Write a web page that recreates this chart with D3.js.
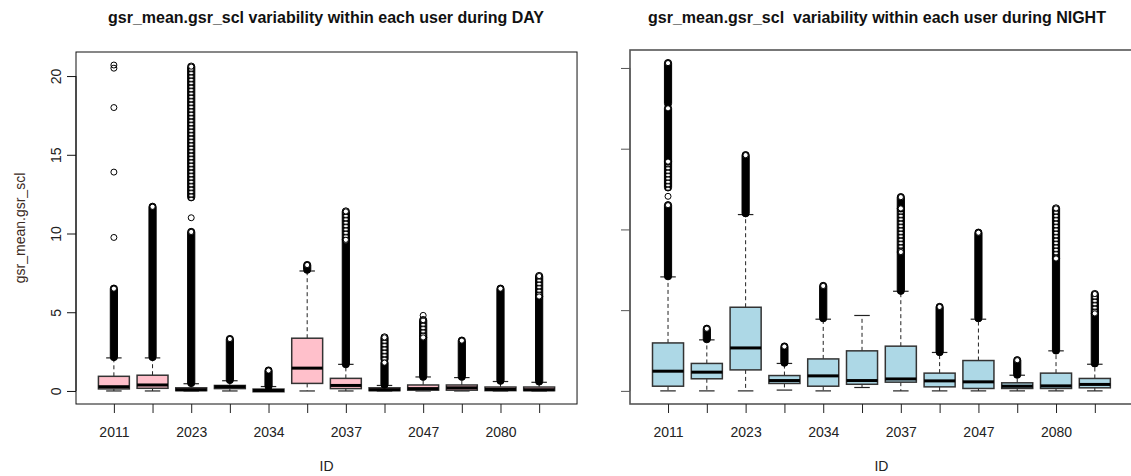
<!DOCTYPE html>
<html>
<head>
<meta charset="utf-8">
<script src="https://cdn.jsdelivr.net/npm/d3@7"></script>
<style>
  body { margin: 0; background: #fff; }
  svg { display: block; font-family: "Liberation Sans", Arial, sans-serif; }
</style>
</head>
<body>
<div id="chart"></div>
<script>
// user IDs (only every other one gets a visible label, like R drops overlapping ones)
const ids = ["2011", "2016", "2023", "2030", "2034", "2035", "2037", "2040", "2047", "2060", "2080", "2081"];
const shownIds = ["2011", "2023", "2034", "2037", "2047", "2080"];
const yTicks = [0, 5, 10, 15, 20];

// DAY box stats
const dayLow  = [0, 0, 0, 0, 0, 0, 0, 0, 0, 0, 0, 0];
const dayQ1   = [0.13, 0.17, 0.02, 0.15, -0.05, 0.48, 0.15, 0.02, 0.05, 0.05, 0.02, 0.02];
const dayMed  = [0.27, 0.38, 0.08, 0.27, 0.03, 1.45, 0.35, 0.08, 0.15, 0.2, 0.1, 0.08];
const dayQ3   = [0.93, 1.0, 0.2, 0.35, 0.12, 3.35, 0.8, 0.2, 0.38, 0.38, 0.25, 0.25];
const dayHigh = [2.1, 2.1, 0.46, 0.65, 0.28, 7.62, 1.69, 0.35, 0.89, 0.85, 0.6, 0.55];
// outlier columns: [from, to, solid?]  and single outliers
const dayRuns = [
  [[2.15, 6.5, 1]],
  [[2.15, 11.7, 1]],
  [[0.5, 10.1, 1], [12.3, 20.6, 0]],
  [[0.7, 3.3, 1]],
  [[0.3, 1.3, 1]],
  [[7.7, 8.0, 1]],
  [[1.7, 9.6, 1], [9.6, 11.4, 0]],
  [[0.4, 1.8, 1], [2.0, 3.4, 0]],
  [[0.9, 3.4, 1], [3.4, 4.5, 0]],
  [[0.9, 3.2, 1]],
  [[0.65, 6.5, 1]],
  [[0.6, 6.0, 1], [6.0, 7.3, 0]]
];
const dayPoints = [[9.75, 13.9, 18.0, 20.5, 20.7], [], [11.0], [], [], [], [], [], [4.8], [], [], []];

// NIGHT box stats
const nightLow  = [0, 0, 0, 0.05, 0, 0.21, 0, 0, 0, 0, 0, 0];
const nightQ1   = [0.29, 0.75, 1.3, 0.46, 0.29, 0.41, 0.54, 0.25, 0.15, 0.15, 0.15, 0.19];
const nightMed  = [1.22, 1.16, 2.66, 0.64, 0.93, 0.64, 0.74, 0.62, 0.56, 0.29, 0.31, 0.4];
const nightQ3   = [2.97, 1.7, 5.18, 0.95, 1.98, 2.48, 2.77, 1.1, 1.88, 0.5, 1.1, 0.77];
const nightHigh = [7.06, 3.16, 10.92, 1.7, 4.44, 4.67, 6.17, 2.38, 4.44, 0.97, 2.48, 1.65];
const nightRuns = [
  [[7.1, 11.5, 1], [12.6, 14.2, 0], [14.2, 17.5, 1], [17.8, 20.3, 1]],
  [[3.2, 3.85, 1]],
  [[11.0, 14.6, 1]],
  [[1.75, 2.75, 1]],
  [[4.5, 6.5, 1]],
  [],
  [[6.2, 8.6, 1], [8.6, 11.3, 0], [11.3, 12.0, 1]],
  [[2.4, 5.2, 1]],
  [[4.5, 9.8, 1]],
  [[1.0, 1.9, 1]],
  [[2.5, 8.2, 1], [8.2, 11.3, 0]],
  [[1.7, 4.8, 1], [4.8, 6.0, 0]]
];
const nightPoints = [[12.05], [], [], [], [], [], [], [], [], [], [], []];

const svg = d3.select("#chart").append("svg")
  .attr("width", 1131)
  .attr("height", 476);

// loosely stacked circles: black column with small white holes
const pat = svg.append("defs").append("pattern")
  .attr("id", "loose")
  .attr("patternUnits", "userSpaceOnUse")
  .attr("width", 8).attr("height", 3.4)
  .attr("x", -4);
pat.append("rect").attr("width", 8).attr("height", 3.4).attr("fill", "#000");
pat.append("ellipse").attr("cx", 4).attr("cy", 1.7).attr("rx", 2).attr("ry", 1.1).attr("fill", "#fff");

function drawPanel(opt) {
  const rows = ids.map(function(id, i) {
    return {id: id, low: opt.low[i], q1: opt.q1[i], med: opt.med[i], q3: opt.q3[i], high: opt.high[i],
            runs: opt.runs[i], points: opt.points[i]};
  });

  // R style 4% padding around the data range
  const maxV = d3.max(rows, function(d) {
    return d3.max([d.high].concat(d.points, d.runs.map(function(r) { return r[1]; })));
  });
  const y = d3.scaleLinear()
    .domain([-0.04 * maxV, maxV * 1.04])
    .range([opt.bottom, opt.top]);

  const x = d3.scaleLinear()
    .domain([0.02, ids.length + 0.98])
    .range([opt.left, opt.left + opt.unit * 12.96]);

  const g = svg.append("g");
  const bw = opt.unit * 0.8;

  // frame
  g.append("rect")
    .attr("x", x.range()[0]).attr("y", opt.top)
    .attr("width", x.range()[1] - x.range()[0]).attr("height", opt.bottom - opt.top)
    .attr("fill", "none").attr("stroke", opt.frame).attr("stroke-width", opt.frameW);

  // y axis
  const yAxis = g.append("g")
    .attr("transform", "translate(" + opt.left + ",0)")
    .call(d3.axisLeft(y).tickValues(yTicks).tickSize(9).tickPadding(4)
      .tickFormat(opt.yLabels ? d3.format("d") : ""));
  yAxis.select(".domain").attr("stroke", opt.frame).attr("d",
    "M0," + y(0) + "V" + y(20));
  yAxis.selectAll(".tick line").attr("stroke", opt.frame);
  yAxis.selectAll(".tick text")
    .attr("font-size", 14).attr("fill", "#222")
    .attr("text-anchor", "middle")
    .attr("x", null).attr("dy", null)
    .attr("transform", "translate(-15,0) rotate(-90)");

  // x axis
  const xAxis = g.append("g")
    .attr("transform", "translate(0," + opt.bottom + ")")
    .call(d3.axisBottom(x).tickValues(d3.range(1, ids.length + 1)).tickSize(9).tickPadding(14)
      .tickFormat(function(d) {
        const id = ids[d - 1];
        return shownIds.indexOf(id) >= 0 && (d - 1) % 2 === 0 ? id : "";
      }));
  xAxis.select(".domain").remove();
  xAxis.selectAll(".tick line").attr("stroke", "#222");
  xAxis.selectAll(".tick text").attr("font-size", 14).attr("fill", "#222");

  const box = g.selectAll(".box").data(rows).enter().append("g")
    .attr("class", "box")
    .attr("transform", function(d, i) { return "translate(" + x(i + 1) + ",0)"; });

  // whiskers
  box.append("line")
    .attr("y1", function(d) { return y(d.q3); }).attr("y2", function(d) { return y(d.high); })
    .attr("stroke", "#222").attr("stroke-dasharray", "4,3");
  box.append("line")
    .attr("y1", function(d) { return y(d.q1); }).attr("y2", function(d) { return y(d.low); })
    .attr("stroke", "#222").attr("stroke-dasharray", "4,3");
  box.append("line")
    .attr("x1", -bw / 4).attr("x2", bw / 4)
    .attr("y1", function(d) { return y(d.high); }).attr("y2", function(d) { return y(d.high); })
    .attr("stroke", "#222").attr("stroke-width", 1.2);
  box.append("line")
    .attr("x1", -bw / 4).attr("x2", bw / 4)
    .attr("y1", function(d) { return y(d.low); }).attr("y2", function(d) { return y(d.low); })
    .attr("stroke", "#222").attr("stroke-width", 1.2);

  // boxes
  box.append("rect")
    .attr("x", -bw / 2).attr("width", bw)
    .attr("y", function(d) { return y(d.q3); })
    .attr("height", function(d) { return Math.max(1, y(d.q1) - y(d.q3)); })
    .attr("fill", opt.fill).attr("stroke", "#333").attr("stroke-width", 1.5);
  box.append("line")
    .attr("x1", -bw / 2).attr("x2", bw / 2)
    .attr("y1", function(d) { return y(d.med); }).attr("y2", function(d) { return y(d.med); })
    .attr("stroke", "#000").attr("stroke-width", 3);

  // outlier columns (many overlapping circles)
  box.selectAll(".run").data(function(d) { return d.runs; }).enter().append("rect")
    .attr("class", "run")
    .attr("x", -3.6).attr("width", 7.2)
    .attr("y", function(r) { return y(r[1]) - 3.6; })
    .attr("height", function(r) { return y(r[0]) - y(r[1]) + 7.2; })
    .attr("rx", 3.6)
    .attr("fill", function(r) { return r[2] ? "#000" : "url(#loose)"; })
    .attr("stroke", "#000").attr("stroke-width", 1);
  box.selectAll(".runtop").data(function(d) { return d.runs; }).enter().append("circle")
    .attr("class", "runtop")
    .attr("cy", function(r) { return y(r[1]); })
    .attr("r", 2.6).attr("fill", "#fff").attr("stroke", "#000").attr("stroke-width", 1);

  box.selectAll(".pt").data(function(d) { return d.points; }).enter().append("circle")
    .attr("class", "pt")
    .attr("cy", function(v) { return y(v); })
    .attr("r", 3).attr("fill", "none").attr("stroke", "#000").attr("stroke-width", 1);

  // titles
  const cx = (x.range()[0] + x.range()[1]) / 2;
  svg.append("text")
    .attr("x", opt.titleX).attr("y", 23)
    .attr("text-anchor", "middle")
    .attr("font-size", 16).attr("font-weight", "bold").attr("fill", "#111")
    .style("white-space", "pre")
    .text(opt.title);
  svg.append("text")
    .attr("x", cx).attr("y", 471)
    .attr("text-anchor", "middle")
    .attr("font-size", 14).attr("fill", "#222")
    .text("ID");
  if (opt.yTitle) {
    svg.append("text")
      .attr("transform", "translate(25," + ((opt.top + opt.bottom) / 2) + ") rotate(-90)")
      .attr("text-anchor", "middle")
      .attr("font-size", 14).attr("fill", "#3a2a22")
      .text(opt.yTitle);
  }
}

drawPanel({
  low: dayLow, q1: dayQ1, med: dayMed, q3: dayQ3, high: dayHigh,
  runs: dayRuns, points: dayPoints,
  left: 76, unit: 38.66, top: 52, bottom: 404,
  fill: "pink", frame: "#111", frameW: 1, yLabels: true,
  title: "gsr_mean.gsr_scl variability within each user during DAY", titleX: 326,
  yTitle: "gsr_mean.gsr_scl"
});

drawPanel({
  low: nightLow, q1: nightQ1, med: nightMed, q3: nightQ3, high: nightHigh,
  runs: nightRuns, points: nightPoints,
  left: 630, unit: 38.8, top: 50, bottom: 404,
  fill: "lightblue", frame: "#555", frameW: 1.6, yLabels: false,
  title: "gsr_mean.gsr_scl  variability within each user during NIGHT", titleX: 877
});
</script>
</body>
</html>
